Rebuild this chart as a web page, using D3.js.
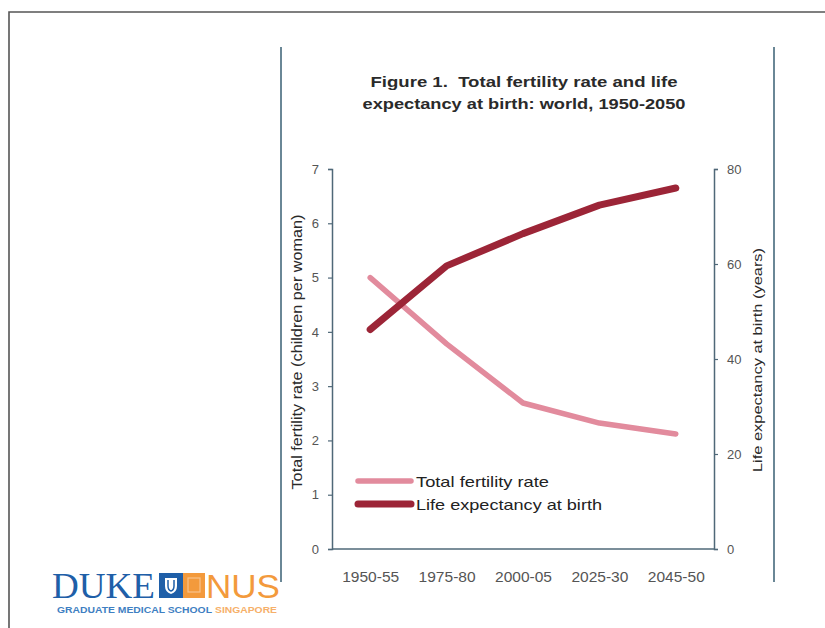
<!DOCTYPE html>
<html><head><meta charset="utf-8">
<script src="https://cdn.jsdelivr.net/npm/d3@7"></script>
<style>body{margin:0;background:#fff}svg{display:block;font-family:"Liberation Sans",Arial,sans-serif}</style>
</head><body>
<svg id="c" width="825" height="628"></svg>
<script>
const categories = ["1950-55","1975-80","2000-05","2025-30","2045-50"];
const fertility = [5.0, 3.78, 2.69, 2.32, 2.12];
const lifeExp = [46.2, 59.6, 66.4, 72.4, 76.0];
const leftTicks = [0,1,2,3,4,5,6,7];
const rightTicks = [0,20,40,60,80];
const titleLines = ["Figure 1.  Total fertility rate and life","expectancy at birth: world, 1950-2050"];
const legendItems = ["Total fertility rate","Life expectancy at birth"];

const svg = d3.select("#c");
const pink = "#e28b9d", dark = "#9c2537", axisCol = "#4f6878", txt = "#2a2a2a", tickTxt = "#555";

// outer frame
svg.append("path").attr("d","M9,628 V12 H825").attr("fill","none").attr("stroke","#555").attr("stroke-width",1.6);
// side rules
[281,774].forEach(x=>svg.append("line").attr("x1",x).attr("x2",x).attr("y1",47).attr("y2",582)
  .attr("stroke","#6a8796").attr("stroke-width",2));

const L = 332, R = 714, T = 169, B = 549;
const x = d3.scalePoint().domain(categories).range([L,R]).padding(0.5);
const yL = d3.scaleLinear().domain([0,7]).range([B,T]);
const yR = d3.scaleLinear().domain([0,80]).range([B,T]);

// title
titleLines.forEach((t,i)=>svg.append("text").attr("x",524).attr("y",87+i*22).attr("text-anchor","middle")
  .style("white-space","pre")
  .attr("font-weight","bold").attr("font-size",14.5).attr("fill",txt)
  .attr("textLength", i==0?307:323).attr("lengthAdjust","spacingAndGlyphs").text(t));

// axes
const gl = svg.append("g").attr("transform",`translate(${L},0)`)
  .call(d3.axisLeft(yL).tickValues(leftTicks).tickSize(4).tickPadding(9).tickFormat(d3.format("d")));
const gr = svg.append("g").attr("transform",`translate(${R},0)`)
  .call(d3.axisRight(yR).tickValues(rightTicks).tickSize(4).tickPadding(9).tickFormat(d3.format("d")));
[gl,gr].forEach(g=>{
  g.select(".domain").attr("stroke",axisCol).attr("stroke-width",1.5);
  g.selectAll(".tick line").attr("stroke",axisCol).attr("stroke-width",1.2);
  g.selectAll(".tick text").attr("fill",tickTxt).attr("font-size",13).attr("font-family","Liberation Sans, Arial, sans-serif");
});
const gx = svg.append("g").attr("transform",`translate(0,${B})`)
  .call(d3.axisBottom(x).tickSize(0).tickPadding(23));
gx.select(".domain").attr("stroke",axisCol).attr("stroke-width",1.5).attr("d",`M${L},0H${R}`);
gx.selectAll(".tick text").attr("fill",tickTxt).attr("font-size",14).attr("font-family","Liberation Sans, Arial, sans-serif")
  .attr("textLength",57).attr("lengthAdjust","spacingAndGlyphs");

// axis titles
svg.append("text").attr("transform","translate(302,352) rotate(-90)").attr("text-anchor","middle")
  .attr("font-size",14).attr("fill",txt).attr("textLength",275).attr("lengthAdjust","spacingAndGlyphs")
  .text("Total fertility rate (children per woman)");
svg.append("text").attr("transform","translate(762,360) rotate(-90)").attr("text-anchor","middle")
  .attr("font-size",13.5).attr("fill",txt).attr("textLength",224).attr("lengthAdjust","spacingAndGlyphs")
  .text("Life expectancy at birth (years)");

// lines
const line = y => d3.line().x((d,i)=>x(categories[i])).y(d=>y(d));
svg.append("path").datum(fertility).attr("d",line(yL)).attr("fill","none").attr("stroke",pink)
  .attr("stroke-width",5.5).attr("stroke-linecap","round").attr("stroke-linejoin","round");
svg.append("path").datum(lifeExp).attr("d",line(yR)).attr("fill","none").attr("stroke",dark)
  .attr("stroke-width",7).attr("stroke-linecap","round").attr("stroke-linejoin","round");

// legend
const legCols = [pink, dark], legW = [5.5,7], legLen=[133,186];
legendItems.forEach((t,i)=>{
  const yy = 481 + i*23;
  svg.append("line").attr("x1",358).attr("x2",411).attr("y1",yy).attr("y2",yy)
    .attr("stroke",legCols[i]).attr("stroke-width",legW[i]).attr("stroke-linecap","round");
  svg.append("text").attr("x",416).attr("y",yy+6).attr("font-size",15).attr("fill","#222")
    .attr("textLength",legLen[i]).attr("lengthAdjust","spacingAndGlyphs").text(t);
});

// logo
const logo = svg.append("g");
logo.append("text").attr("x",52).attr("y",598).attr("font-family","Liberation Serif, Times New Roman, serif")
  .attr("font-size",36).attr("fill","#1f5fa8").attr("textLength",103).attr("lengthAdjust","spacingAndGlyphs").text("DUKE");
logo.append("rect").attr("x",159).attr("y",573).attr("width",24).attr("height",25).attr("fill","#1f5fa8");
logo.append("path").attr("d","M165,578 h12 v8 q0,6 -6,8 q-6,-2 -6,-8 z").attr("fill","#fff");
logo.append("path").attr("d","M168,580 v6 q0,4 3,5 q3,-1 3,-5 v-6").attr("fill","none").attr("stroke","#1f5fa8").attr("stroke-width",1.5);
logo.append("rect").attr("x",183).attr("y",573).attr("width",22).attr("height",25).attr("fill","#f39a3c");
logo.append("rect").attr("x",188).attr("y",578).attr("width",12).attr("height",14).attr("fill","none").attr("stroke","#f8c48c").attr("stroke-width",1.2);
logo.append("text").attr("x",206).attr("y",598).attr("font-size",34).attr("fill","#f39a3c")
  .attr("textLength",74).attr("lengthAdjust","spacingAndGlyphs").text("NUS");
logo.append("text").attr("x",57).attr("y",613).attr("font-size",9).attr("font-weight","bold").attr("fill","#3f7fc2")
  .attr("textLength",155).attr("lengthAdjust","spacingAndGlyphs").text("GRADUATE MEDICAL SCHOOL");
logo.append("text").attr("x",215).attr("y",613).attr("font-size",9).attr("font-weight","bold").attr("fill","#f6b06a")
  .attr("textLength",62).attr("lengthAdjust","spacingAndGlyphs").text("SINGAPORE");
</script>
</body></html>
